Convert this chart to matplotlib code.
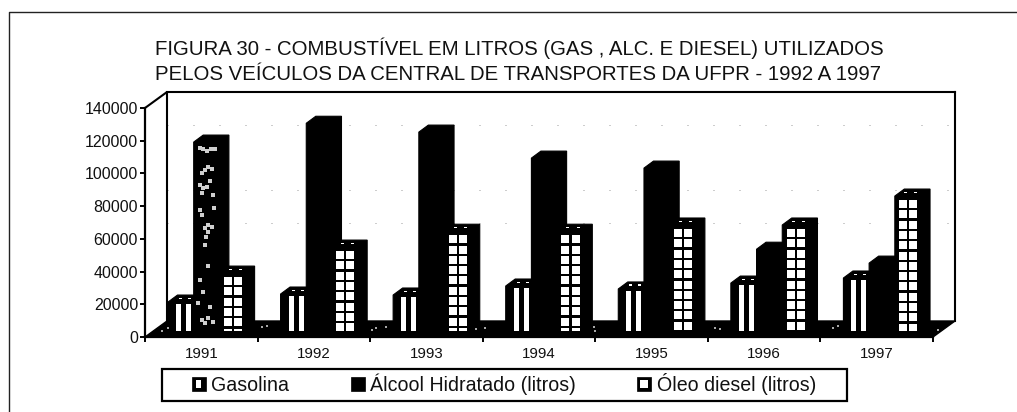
import matplotlib
matplotlib.use("Agg")
import matplotlib.pyplot as plt
from matplotlib.patches import Polygon, Rectangle, Patch
from matplotlib.legend_handler import HandlerBase

plt.rcParams['font.family'] = ['Liberation Sans', 'DejaVu Sans']

years = ['1991', '1992', '1993', '1994', '1995', '1996', '1997']
gasolina = [17700, 22600, 22000, 27500, 25700, 29300, 32400]
alcool = [115500, 127000, 121600, 105700, 99600, 50000, 41500]
diesel = [35400, 51300, 61000, 61000, 64800, 64800, 82500]
yticks = [0, 20000, 40000, 60000, 80000, 100000, 120000, 140000]
title_lines = ['FIGURA 30 - COMBUSTÍVEL EM LITROS (GAS , ALC. E DIESEL) UTILIZADOS',
               'PELOS VEÍCULOS DA CENTRAL DE TRANSPORTES DA UFPR - 1992 A 1997']
series_names = ['Gasolina', 'Álcool Hidratado (litros)', 'Óleo diesel (litros)']

W, H = 1017, 412
L, R, T, B = 145, 933, 108, 337
fig = plt.figure(figsize=(W / 100, H / 100), dpi=100, facecolor='white')
ax = fig.add_axes([L / W, 1 - B / H, (R - L) / W, (B - T) / H])
ax.set_xlim(0, 7)
ax.set_ylim(0, 140000)
ax.patch.set_visible(False)

sx = 7 / (R - L)        # data units per pixel, x
sy = 140000 / (B - T)   # data units per pixel, y
X = lambda px: (px - L) * sx
Y = lambda py: (B - py) * sy

# outer page frame
fig.add_artist(plt.Line2D([9 / W, 9 / W, 1], [0, 1 - 12 / H, 1 - 12 / H], color='#222222', lw=1.0))

# walls and floor
wdx, wdy = 22 * sx, 16 * sy
ax.add_patch(Polygon([(0, 0), (7, 0), (7 + wdx, wdy), (wdx, wdy)], fc='black', ec='black', lw=1, clip_on=False, zorder=2))
wall = dict(color='black', lw=1.5, clip_on=False, zorder=2, solid_capstyle='projecting')
ax.plot([0, wdx, wdx], [140000, 140000 + wdy, wdy], **wall)
ax.plot([wdx, 7 + wdx], [140000 + wdy] * 2, **wall)
ax.plot([7 + wdx] * 2, [140000 + wdy, wdy], **wall)
for v in (60000, 80000, 120000):
    ax.plot([wdx, 7 + wdx], [v + wdy] * 2, color='#888888', lw=0.6, dashes=(1.2, 30), clip_on=False, zorder=1)

# bars
bw = 25.7 * sx
bdx, bdy = 9.5 * sx, 7 * sy
base = 6 * sy
first = 23 * sx
for i in range(len(years)):
    for j, vals in enumerate([gasolina, alcool, diesel]):
        x0 = i + first + j * bw
        v = vals[i]
        ytop = base + v
        ax.add_patch(Polygon([(x0, base), (x0, ytop), (x0 + bdx, ytop + bdy), (x0 + bw + bdx, ytop + bdy),
                              (x0 + bw + bdx, base + bdy), (x0 + bw, base)],
                             fc='black', ec='black', lw=0.8, clip_on=False, zorder=3))
        if j == 0:
            for off in (8, 18):
                ax.add_patch(Rectangle((x0 + off * sx, base), 5 * sx, v - 2 * sy, fc='white', ec='none', zorder=4))
            for off in (9, 18):
                ax.add_patch(Rectangle((x0 + (off + 2) * sx, ytop + 3 * sy), 3 * sx, 1.5 * sy, fc='white', ec='none', zorder=4))
        if j == 2:
            for off in (4.3, 14.5):
                yy = ytop - 4 * sy
                while yy > base:
                    h = min(8 * sy, yy - base)
                    ax.add_patch(Rectangle((x0 + off * sx, yy - h), 8 * sx, h, fc='white', ec='none', zorder=4))
                    yy -= 10.3 * sy
                ax.add_patch(Rectangle((x0 + (off + 5) * sx, ytop + 3 * sy), 3 * sx, 1.3 * sy, fc='white', ec='none', zorder=4))

# scan texture on the first alcohol bar and on the floor
tex = [(300, 175), (310, 178), (320, 182), (332, 176), (345, 178), (315, 240), (325, 232), (335, 238), (305, 248),
       (300, 285), (310, 295), (320, 290), (305, 310), (340, 315), (330, 272), (300, 360), (305, 375), (342, 355),
       (325, 405), (315, 415), (325, 425), (335, 412), (318, 440), (315, 465), (325, 528), (300, 570),
       (310, 605), (330, 650), (315, 700), (295, 640), (340, 695), (305, 690), (325, 685)]
ax.scatter([X(100 + a / 3) for a, b in tex], [Y(90 + b / 3) for a, b in tex], s=7, marker='s',
           color='#cfcfcf', linewidths=0, clip_on=False, zorder=5)
specks = [(162, 331), (168, 328), (262, 327), (267, 326), (372, 330), (376, 328), (386, 327), (476, 329),
          (485, 328), (595, 331), (594, 327), (715, 328), (720, 329), (833, 328), (838, 326), (938, 330)]
ax.scatter([X(a) for a, b in specks], [Y(b) for a, b in specks], s=4, marker='s', color='#a8a8a8',
           linewidths=0, clip_on=False, zorder=3)

# axes
for s in ('top', 'right'):
    ax.spines[s].set_visible(False)
for s in ('left', 'bottom'):
    ax.spines[s].set_linewidth(1.6)
ax.set_yticks(yticks)
ax.set_yticklabels([str(v) for v in yticks], fontsize=11.5, color='#111111')
ax.set_xticks(range(8))
ax.set_xticklabels([])
ax.set_xticks([i + 0.5 for i in range(7)], minor=True)
ax.set_xticklabels(years, minor=True, fontsize=10.8, color='#111111')
ax.tick_params(axis='y', length=3.5, width=1.4, pad=1.5)
ax.tick_params(axis='x', which='major', length=3.5, width=1.4, direction='out')
ax.tick_params(axis='x', which='minor', length=0, pad=7)

# title
for line, yc in zip(title_lines, (48.5, 75)):
    fig.text(155 / W, 1 - yc / H, line, fontsize=14.65, color='#111111', va='center', ha='left')

# legend
class Swatch(HandlerBase):
    def create_artists(self, legend, orig, xd, yd, width, height, fontsize, trans):
        x0, y0, s = -xd + width - 10, -yd + height / 2 - 5, 10
        arts = [Rectangle((x0, y0), s, s, fc='black', ec='black', lw=0.5, transform=trans)]
        if orig.get_label() == series_names[0]:
            arts.append(Rectangle((x0 + 3.5, y0 + 2), 3, 6, fc='white', ec='none', transform=trans))
        elif orig.get_label() == series_names[2]:
            arts.append(Rectangle((x0 + 2.2, y0 + 2.2), 5.6, 5.6, fc='white', ec='none', transform=trans))
        return arts

px_pt = 72 / 100
fig.add_artist(Rectangle((162 / W, 1 - 401 / H), (847 - 162) / W, 32 / H, transform=fig.transFigure,
                         fc='white', ec='black', lw=1.6))
handles = [Patch(label=n) for n in series_names]
fs = 14.15
fpx = fs / px_pt
leg = fig.legend(handles=handles, loc='center', bbox_to_anchor=(504 / W, 1 - 384 / H), ncol=3, frameon=False,
                 fontsize=fs, handler_map={Patch: Swatch()}, handlelength=14 / fpx, handleheight=1,
                 handletextpad=6 / fpx, columnspacing=61 / fpx, borderpad=0, labelcolor='#111111')

fig.savefig('out.png', dpi=100)
